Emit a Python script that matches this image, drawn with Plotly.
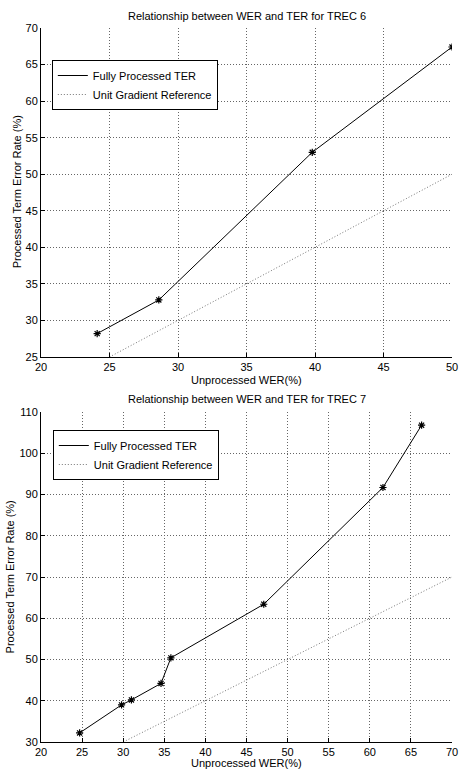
import plotly.graph_objects as go

# TREC 6 data
trec6_wer = [24.1, 28.6, 39.8, 50.0]
trec6_ter = [28.2, 32.8, 53.0, 67.4]
ref6_x = [25, 50]
ref6_y = [25, 50]

# TREC 7 data
trec7_wer = [24.7, 29.8, 31.0, 34.6, 35.8, 47.1, 61.6, 66.3]
trec7_ter = [32.2, 39.0, 40.2, 44.2, 50.4, 63.4, 91.7, 106.8]
ref7_x = [30, 70]
ref7_y = [30, 70]

titles = ["Relationship between WER and TER for TREC 6",
          "Relationship between WER and TER for TREC 7"]
xlabel = "Unprocessed WER(%)"
ylabel = "Processed Term Error Rate (%)"

FONT = "Liberation Sans, Arial, Helvetica, sans-serif"
W, H = 465, 769
ML, MR, MT, MB = 41, 7, 28, 27
PH = H - MT - MB
PW = W - ML - MR

def py(px):
    return (H - MB - px) / PH

def pxr(px):
    return (px - ML) / PW

fig = go.Figure()

def add_panel(wer, ter, rx, ry, xa, ya, leg):
    fig.add_trace(go.Scatter(x=wer, y=ter, mode="lines", name="Fully Processed TER",
                             line=dict(color="black", width=1), xaxis=xa, yaxis=ya, legend=leg))
    fig.add_trace(go.Scatter(x=rx, y=ry, mode="lines", name="Unit Gradient Reference",
                             line=dict(color="#777777", width=1, dash="1px,2px"), xaxis=xa, yaxis=ya, legend=leg))
    fig.add_trace(go.Scatter(x=wer, y=ter, mode="markers", showlegend=False,
                             marker=dict(symbol="asterisk-open", size=6, color="black",
                                         line=dict(color="black", width=1.2)),
                             xaxis=xa, yaxis=ya))

add_panel(trec6_wer, trec6_ter, ref6_x, ref6_y, "x", "y", "legend")
add_panel(trec7_wer, trec7_ter, ref7_x, ref7_y, "x2", "y2", "legend2")

axcommon = dict(showline=True, linecolor="black", linewidth=1, mirror=False,
                ticks="inside", ticklen=4, tickcolor="black",
                showgrid=True, gridcolor="#666666", griddash="1px,2px", gridwidth=1,
                zeroline=False, ticklabeloverflow="allow",
                tickfont=dict(family=FONT, size=11, color="black"))

top_dom = [py(357), 1.0]
bot_dom = [0.0, py(412)]

legcommon = dict(xanchor="left", yanchor="top", bgcolor="white", bordercolor="black",
                 borderwidth=1, font=dict(family=FONT, size=11, color="black"),
                 tracegroupgap=0, itemwidth=30, entrywidth=150)

fig.update_layout(
    width=W, height=H,
    margin=dict(l=ML, r=MR, t=MT, b=MB),
    paper_bgcolor="white", plot_bgcolor="white",
    font=dict(family=FONT, size=11, color="black"),
    xaxis=dict(range=[20, 50], dtick=5, anchor="y", domain=[0, 1], **axcommon),
    yaxis=dict(range=[25, 70], dtick=5, anchor="x", domain=top_dom, **axcommon),
    xaxis2=dict(range=[20, 70], dtick=5, anchor="y2", domain=[0, 1], **axcommon),
    yaxis2=dict(range=[30, 110], dtick=10, anchor="x2", domain=bot_dom, **axcommon),
    legend=dict(x=pxr(52), y=py(60), **legcommon),
    legend2=dict(x=pxr(53), y=py(430), **legcommon),
    showlegend=True,
    hovermode=False,
)

def ann(text, x, y, angle=0):
    return dict(text=text, x=x, y=y, xref="paper", yref="paper", xanchor="center",
                yanchor="middle", showarrow=False, textangle=angle,
                font=dict(size=11, family=FONT, color="black"))

anns = [
    ann(titles[0], 0.5, py(16)),
    ann(titles[1], 0.5, py(399)),
    ann(xlabel, 0.5, py(380)),
    ann(xlabel, 0.5, py(763)),
    ann(ylabel, pxr(17), py(192), -90),
    ann(ylabel, pxr(10), py(577), -90),
]
fig.update_layout(annotations=anns)

fig.write_html("out.html", config={"displayModeBar": False},
               post_script="document.body.style.margin='0';document.body.style.overflow='hidden';")
